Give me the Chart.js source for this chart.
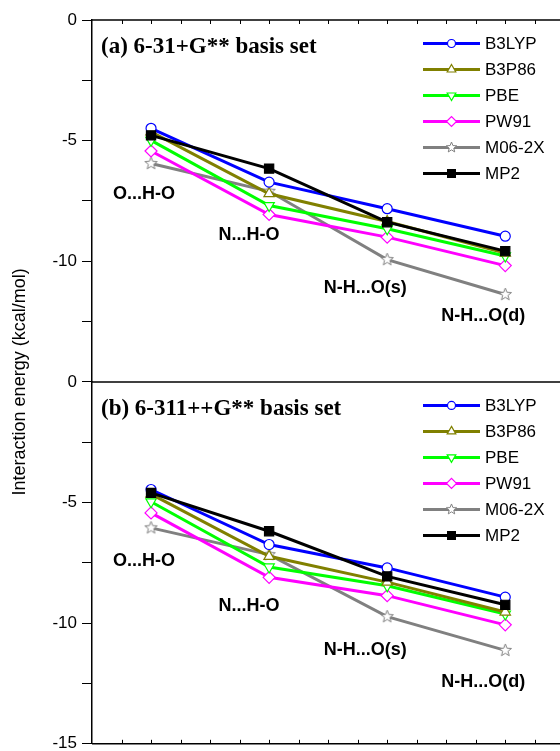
<!DOCTYPE html>
<html><head><meta charset="utf-8">
<script src="https://cdn.jsdelivr.net/npm/chart.js@4.4.1/dist/chart.umd.min.js"></script>
<style>
html,body{margin:0;padding:0;background:#fff;overflow:hidden;width:560px;height:751px}
#wrap{position:absolute;left:0;top:0;width:572px;height:759px}
</style></head>
<body><div id="wrap"><canvas id="c" width="572" height="759"></canvas></div>
<script>
// ---------------- data ----------------
const categories = ['O...H-O', 'N...H-O', 'N-H...O(s)', 'N-H...O(d)'];
const methods = ['B3LYP', 'B3P86', 'PBE', 'PW91', 'M06-2X', 'MP2'];
const panelTitles = ['(a) 6-31+G** basis set', '(b) 6-311++G** basis set'];
const yTickLabels = ['0', '-5', '-10', '-15'];

// (a) 6-31+G**
const a_B3LYP = [-4.49, -6.72, -7.82, -8.96];
const a_B3P86 = [-4.64, -7.20, -8.35, -9.66];
const a_PBE   = [-4.99, -7.69, -8.65, -9.78];
const a_PW91  = [-5.43, -8.06, -9.00, -10.18];
const a_M062X = [-5.95, -7.10, -9.93, -11.38];
const a_MP2   = [-4.78, -6.16, -8.38, -9.58];

// (b) 6-311++G**
const b_B3LYP = [-4.46, -6.74, -7.71, -8.92];
const b_B3P86 = [-4.65, -7.23, -8.30, -9.54];
const b_PBE   = [-4.97, -7.67, -8.45, -9.62];
const b_PW91  = [-5.43, -8.10, -8.86, -10.07];
const b_M062X = [-6.05, -7.16, -9.73, -11.13];
const b_MP2   = [-4.60, -6.19, -8.06, -9.24];

const panelA = [a_B3LYP, a_B3P86, a_PBE, a_PW91, a_M062X, a_MP2];
const panelB = [b_B3LYP, b_B3P86, b_PBE, b_PW91, b_M062X, b_MP2];

// ---------------- styles / layout ----------------
function makeStar(r, ri, color) {
  const s = Math.ceil(r * 2 + 4);
  const cv = document.createElement('canvas');
  cv.width = s; cv.height = s;
  const c = cv.getContext('2d');
  c.beginPath();
  for (let i = 0; i < 10; i++) {
    const rr = i % 2 === 0 ? r : ri;
    const ang = -Math.PI / 2 + i * Math.PI / 5;
    const px = s / 2 + rr * Math.cos(ang), py = s / 2 + rr * Math.sin(ang);
    if (i === 0) c.moveTo(px, py); else c.lineTo(px, py);
  }
  c.closePath();
  c.fillStyle = '#fff'; c.fill();
  c.strokeStyle = color; c.lineWidth = 1; c.stroke();
  return cv;
}
const starBig = makeStar(6.5, 2.8, '#808080');
const starSmall = makeStar(5.5, 2.4, '#808080');

const styles = [
  {color: '#0000ff', style: 'circle', radius: 5, rot: 0, fill: '#ffffff', order: 2},
  {color: '#808000', style: 'triangle', radius: 6, rot: 0, fill: '#ffffff', order: 3},
  {color: '#00ff00', style: 'triangle', radius: 6, rot: 180, fill: '#ffffff', order: 4},
  {color: '#ff00ff', style: 'rectRot', radius: 6, rot: 0, fill: '#ffffff', order: 5},
  {color: '#808080', style: starBig, legendStyle: starSmall, radius: 6, rot: 0, fill: '#ffffff', order: 6},
  {color: '#000000', style: 'rect', radius: 6.5, rot: 0, fill: '#000000', order: 1}
];

// category label placement (value units for y, pixel shift for x)
const labelYA = [-7.23, -8.93, -11.13, -12.26];
const labelYB = [-7.44, -9.31, -11.13, -12.46];
const labelDx = [-7, -20, -22, -22];

const datasets = [];
[panelA, panelB].forEach((panel, p) => {
  panel.forEach((vals, i) => {
    const st = styles[i];
    datasets.push({
      label: methods[i] + (p === 0 ? ' (a)' : ' (b)'),
      data: vals,
      yAxisID: p === 0 ? 'yA' : 'yB',
      xAxisID: 'x',
      borderColor: st.color,
      backgroundColor: st.fill,
      borderWidth: 3,
      pointStyle: st.style,
      pointRadius: st.radius,
      pointRotation: st.rot,
      pointBorderColor: st.color,
      pointBackgroundColor: st.fill,
      pointBorderWidth: 1.2,
      tension: 0,
      order: st.order,
      clip: false
    });
  });
});

function yScale(top) {
  return {
    type: 'linear',
    position: 'left',
    stack: 'panels',
    stackWeight: 1,
    weight: top ? 1 : 0,
    min: -15, max: 0,
    afterFit: (s) => { s.width = 92; },
    border: {display: true, color: '#000', width: 1.5},
    grid: {drawOnChartArea: false, drawTicks: true, tickLength: 10, color: '#000', lineWidth: 1},
    ticks: {
      stepSize: 2.5, autoSkip: false, padding: 5, color: '#000',
      font: {family: 'Liberation Sans', size: 17},
      callback: (v) => {
        const lbl = String(v);
        if (top && v === -15) return '';
        return yTickLabels.includes(lbl) ? lbl : '';
      }
    }
  };
}

const decorPlugin = {
  id: 'decor',
  afterDraw(chart) {
    const ctx = chart.ctx, ca = chart.chartArea;
    const yA = chart.scales.yA, yB = chart.scales.yB, x = chart.scales.x;
    ctx.save();
    // frame
    ctx.strokeStyle = '#000'; ctx.lineWidth = 1.5;
    [yA.top, yB.top, yB.bottom].forEach(yy => {
      ctx.beginPath(); ctx.moveTo(ca.left, yy); ctx.lineTo(ca.right, yy); ctx.stroke();
    });
    ctx.beginPath(); ctx.moveTo(ca.right, ca.top); ctx.lineTo(ca.right, ca.bottom); ctx.stroke();
    // minor x ticks (quarter category)
    const step = (ca.right - ca.left) / (categories.length * 4);
    ctx.lineWidth = 1;
    for (let i = 1; i < categories.length * 4; i++) {
      const xx = Math.round(ca.left + i * step) + 0.5;
      ctx.beginPath();
      ctx.moveTo(xx, yB.bottom); ctx.lineTo(xx, yB.bottom - 4);
      ctx.moveTo(xx, yA.top); ctx.lineTo(xx, yA.top + 4);
      ctx.stroke();
    }
    // y title
    ctx.fillStyle = '#000';
    ctx.font = '18px "Liberation Sans", Arial, sans-serif';
    ctx.textAlign = 'center'; ctx.textBaseline = 'middle';
    ctx.translate(20, (yA.top + yB.bottom) / 2);
    ctx.rotate(-Math.PI / 2);
    ctx.fillText('Interaction energy (kcal/mol)', 0, 0);
    ctx.setTransform(1, 0, 0, 1, 0, 0);

    [yA, yB].forEach((ys, p) => {
      // panel title
      ctx.fillStyle = '#000';
      ctx.font = 'bold 23px "Liberation Serif", "Times New Roman", serif';
      ctx.textAlign = 'left'; ctx.textBaseline = 'middle';
      ctx.fillText(panelTitles[p], 101, ys.top + 27);
      // category labels
      ctx.font = 'bold 18px "Liberation Sans", Arial, sans-serif';
      ctx.textAlign = 'center';
      const ly = p === 0 ? labelYA : labelYB;
      categories.forEach((c, i) => {
        ctx.fillText(c, x.getPixelForValue(i) + labelDx[i], ys.getPixelForValue(ly[i]));
      });
      // legend
      methods.forEach((m, i) => {
        const st = styles[i];
        const yy = ys.top + 23.5 + i * 26;
        ctx.strokeStyle = st.color; ctx.lineWidth = 3;
        ctx.beginPath(); ctx.moveTo(423, yy); ctx.lineTo(480, yy); ctx.stroke();
        ctx.fillStyle = st.fill; ctx.strokeStyle = st.color; ctx.lineWidth = 1.2;
        Chart.helpers.drawPoint(ctx, {
          pointStyle: st.legendStyle || st.style,
          radius: st.radius - 1,
          rotation: st.rot,
          borderWidth: 1.2
        }, 451.5, yy);
        ctx.fillStyle = '#000';
        ctx.font = '17px "Liberation Sans", Arial, sans-serif';
        ctx.textAlign = 'left'; ctx.textBaseline = 'middle';
        ctx.fillText(m, 485, yy + 1);
      });
    });
    ctx.restore();
  }
};

new Chart(document.getElementById('c'), {
  type: 'line',
  data: {labels: categories, datasets},
  options: {
    responsive: false,
    animation: false,
    devicePixelRatio: 1,
    layout: {padding: {top: 20, bottom: 9, right: 3, left: 0}},
    plugins: {legend: {display: false}, tooltip: {enabled: false}},
    scales: {
      x: {type: 'category', offset: true, display: false},
      yA: yScale(true),
      yB: yScale(false)
    }
  },
  plugins: [decorPlugin]
});
</script>
</body></html>
